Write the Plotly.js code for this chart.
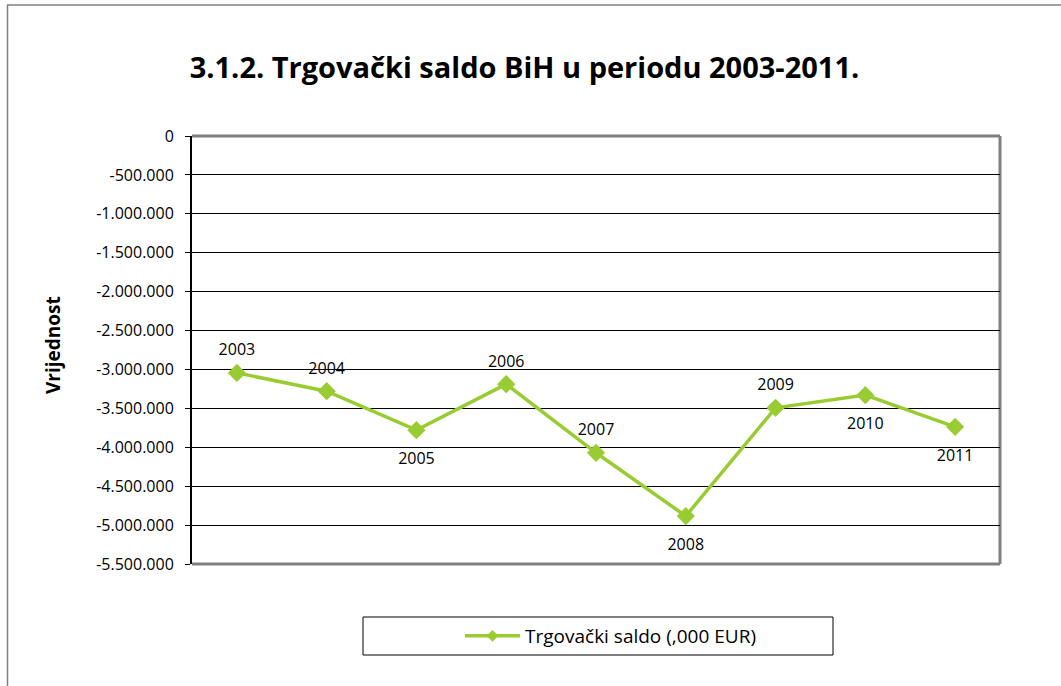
<!DOCTYPE html>
<html>
<head>
<meta charset="utf-8">
<script src="https://cdn.plot.ly/plotly-3.0.1.min.js"></script>
<style>
html,body{margin:0;padding:0;background:#fff;}
#chart{width:1061px;height:686px;}
</style>
</head>
<body>
<div id="chart"></div>
<script>
// Data
const years = ['2003','2004','2005','2006','2007','2008','2009','2010','2011'];
const saldo = [-3044000,-3279000,-3780000,-3189000,-4071000,-4884000,-3493000,-3330000,-3737000];
const labelPos = ['top center','top center','bottom center','top center','top center','bottom center','top center','bottom center','bottom center'];
const tickVals = [0,-500000,-1000000,-1500000,-2000000,-2500000,-3000000,-3500000,-4000000,-4500000,-5000000,-5500000];
const tickText = ['0','-500.000','-1.000.000','-1.500.000','-2.000.000','-2.500.000','-3.000.000','-3.500.000','-4.000.000','-4.500.000','-5.000.000','-5.500.000'];
const seriesName = 'Trgovački saldo (,000 EUR)';
const chartTitle = '3.1.2. Trgovački saldo BiH u periodu 2003-2011.';
const yTitle = 'Vrijednost';

const W = 1061, Hh = 686;
const M = {l:192, r:61, t:136, b:122};
const PW = W - M.l - M.r, PH = Hh - M.t - M.b;
const px = x => (x - M.l) / PW;
const py = y => (Hh - M.b - y) / PH;

const green = '#99CC33';
const font = 'Open Sans, Liberation Sans, sans-serif';
// invisible spacer marker size controls label offset from the point
const labelGap = labelPos.map(p => p.startsWith('top') ? 20 : 34);

const traces = [
  {
    x: years, y: saldo, type: 'scatter', mode: 'markers+text',
    text: years, textposition: labelPos,
    marker: {symbol: 'diamond', size: labelGap, color: '#fff', opacity: 0, line: {width: 0}},
    textfont: {family: font, size: 16, color: '#000'},
    showlegend: false, hoverinfo: 'skip'
  },
  {
    x: years, y: saldo, type: 'scatter', mode: 'lines+markers',
    name: seriesName, showlegend: false,
    line: {color: green, width: 3.5},
    marker: {symbol: 'diamond', size: 14, color: green},
    hoverinfo: 'x+y'
  },
  {
    // legend entry (small marker as in the original)
    x: [null], y: [null], type: 'scatter', mode: 'lines+markers',
    name: seriesName, showlegend: true,
    line: {color: green, width: 3.5},
    marker: {symbol: 'diamond', size: 9, color: green},
    hoverinfo: 'skip'
  }
];

const gray = '#808080';
const layout = {
  width: W, height: Hh,
  margin: M,
  paper_bgcolor: '#fff', plot_bgcolor: '#fff',
  font: {family: font, size: 16, color: '#000'},
  title: {
    text: '<b>' + chartTitle + '</b>',
    font: {family: font, size: 29, color: '#000'},
    x: 524.5 / W, xref: 'container', xanchor: 'center',
    y: 1 - 68 / Hh, yref: 'container', yanchor: 'middle'
  },
  xaxis: {
    type: 'category', range: [-0.5, 8.5],
    showgrid: false, showticklabels: false, zeroline: false, showline: false, ticks: ''
  },
  yaxis: {
    range: [-5500000, 0],
    tickvals: tickVals, ticktext: tickText,
    showgrid: true, gridcolor: '#000', gridwidth: 1,
    zeroline: false,
    showline: true, linecolor: '#000', linewidth: 2,
    ticks: 'outside', ticklen: 5, tickcolor: '#000', tickwidth: 1,
    ticklabelstandoff: 8,
    tickfont: {family: font, size: 16, color: '#000'}
  },
  showlegend: true,
  legend: {
    orientation: 'h', x: px(460), xanchor: 'left', y: py(636), yanchor: 'middle',
    bgcolor: 'rgba(0,0,0,0)', borderwidth: 0,
    font: {family: font, size: 19, color: '#000'},
    itemwidth: 55
  },
  annotations: [
    {
      text: '<b>' + yTitle + '</b>', textangle: -90,
      xref: 'paper', yref: 'paper', x: px(53), y: py(345),
      xanchor: 'center', yanchor: 'middle', showarrow: false,
      font: {family: font, size: 19, color: '#000'}
    }
  ],
  shapes: [
    {type: 'line', xref: 'paper', yref: 'paper', x0: 0, x1: 1, y0: 1, y1: 1, line: {color: gray, width: 3}, layer: 'between'},
    {type: 'line', xref: 'paper', yref: 'paper', x0: 1, x1: 1, y0: 0, y1: 1, line: {color: gray, width: 3}, layer: 'between'},
    {type: 'line', xref: 'paper', yref: 'paper', x0: 0, x1: 1, y0: 0, y1: 0, line: {color: gray, width: 3}, layer: 'between'},
    {type: 'line', xref: 'paper', yref: 'paper', x0: px(7), x1: px(1061), y0: py(5), y1: py(5), line: {color: gray, width: 1.5}},
    {type: 'line', xref: 'paper', yref: 'paper', x0: px(7.5), x1: px(7.5), y0: py(5), y1: py(686), line: {color: gray, width: 1.5}},
    {type: 'rect', xref: 'paper', yref: 'paper', x0: px(363), x1: px(833), y0: py(617), y1: py(655), line: {color: '#000', width: 1}}
  ]
};

Plotly.newPlot('chart', traces, layout, {displayModeBar: false, staticPlot: true});
</script>
</body>
</html>
